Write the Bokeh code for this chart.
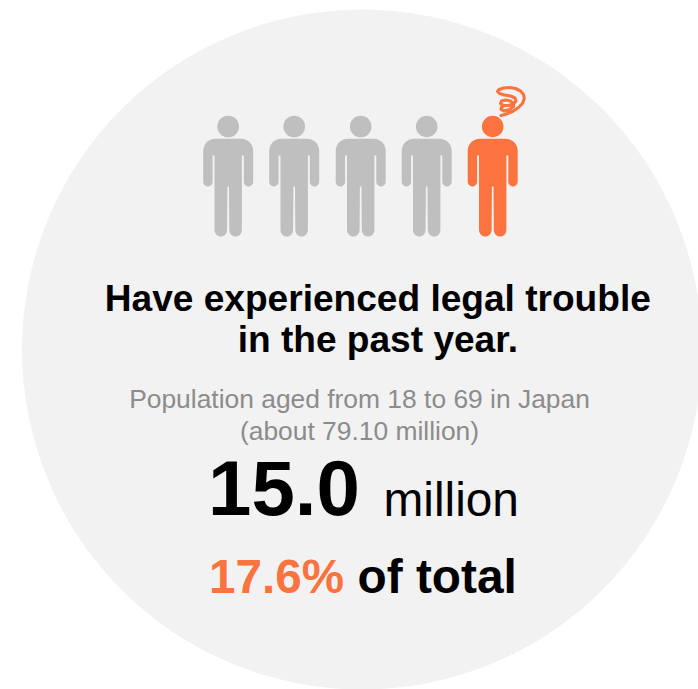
import numpy as np
from bokeh.core.properties import value
from bokeh.embed import file_html
from bokeh.models import Range1d
from bokeh.plotting import figure
from bokeh.resources import INLINE

WIDTH, HEIGHT = 698, 689

# Pictogram row: one figure in five is highlighted
person_centers = [227.7, 293.7, 360.2, 426.2, 492.2]
person_colors = ["#bfbfbf", "#bfbfbf", "#bfbfbf", "#bfbfbf", "#fb733f"]

GREY_BG = "#f2f2f2"
ORANGE = "#fb733f"

title_lines = ["Have experienced legal trouble", "in the past year."]
population_lines = ["Population aged from 18 to 69 in Japan", "(about 79.10 million)"]
headline_value = "15.0"
headline_unit = "million"
share_value = "17.6%"
share_suffix = "of total"

# Hand-drawn scribble above the highlighted head
scribble_x = [500.5, 506, 512, 518, 522, 523.8, 523, 520, 515, 509, 503, 498.5, 497, 499, 504, 510, 514.5, 515.5,
              513, 508, 503, 500, 501, 505, 510, 513, 513, 509, 504, 500.5, 501, 504]
scribble_y = [115, 113.5, 111, 107, 103, 98, 94, 90.5, 88, 87, 87.5, 89, 91, 93, 94.5, 95.5, 97.5, 100.5,
              103.5, 105, 105, 103, 100.5, 99.5, 100.5, 103, 106, 109, 110.5, 109, 106.5, 105]


def arc(cx, cy, r, start, end, n=10):
    t = np.radians(np.linspace(start, end, n))
    return cx + r * np.cos(t), cy + r * np.sin(t)


def body_outline(c):
    """Outline of a standing figure's body around its vertical axis c (y grows downward)."""
    parts = []
    # left arm, shoulder and outer edge
    parts.append(([c - 25, c - 25], [181.3, 150]))
    parts.append(arc(c - 13, 150.3, 12, 180, 270))
    parts.append(arc(c + 13, 150.3, 12, 270, 360))
    # right arm
    parts.append(([c + 25], [181.3]))
    parts.append(arc(c + 20.3, 181.3, 4.7, 0, 180))
    parts.append(([c + 15.6, c + 13.7, c + 13.7], [155, 155, 229.7]))
    # legs
    parts.append(arc(c + 7.4, 229.7, 6.3, 0, 180))
    parts.append(([c + 0.8, c - 0.8], [186, 186]))
    parts.append(arc(c - 7.4, 229.7, 6.3, 0, 180))
    parts.append(([c - 13.7, c - 13.7, c - 15.6], [229.7, 155, 155]))
    # left arm, lower end
    parts.append(arc(c - 20.3, 181.3, 4.7, 0, 180))
    xs = np.concatenate([np.asarray(a, float) for a, _ in parts])
    ys = np.concatenate([np.asarray(b, float) for _, b in parts])
    return xs, ys


p = figure(
    width=WIDTH, height=HEIGHT, output_backend="svg", toolbar_location=None,
    x_range=Range1d(0, WIDTH), y_range=Range1d(HEIGHT, 0),
    min_border=0, outline_line_color=None,
    background_fill_color="white", border_fill_color="white",
)
p.axis.visible = False
p.grid.visible = False

# Backdrop disc, cut off by the right edge of the page
p.circle(x=[361.5], y=[349], radius=340, fill_color=GREY_BG, line_color=None)

# Pictogram
for c, col in zip(person_centers, person_colors):
    xs, ys = body_outline(c)
    p.patch(xs, ys, fill_color=col, line_color=None)
    p.circle(x=[c], y=[126], radius=10.8, fill_color=col, line_color=None)

p.line(scribble_x, scribble_y, line_color=ORANGE, line_width=3.1, line_cap="round", line_join="round")


def label(x, y, text, size, color="black", style="normal", align="center"):
    p.text(x=[x], y=[y], text=[text], text_font=value("Liberation Sans"),
           text_font_size=f"{size}px", text_color=color, text_font_style=style,
           text_align=align, text_baseline="middle")


label(377.3, 297, title_lines[0], 37.1, style="bold")
label(377.3, 338, title_lines[1], 37.1, style="bold")
label(359, 398, population_lines[0], 26.4, color="#8c8c8c")
label(359, 430, population_lines[1], 26.4, color="#8c8c8c")
label(207.5, 487, headline_value, 78, style="bold", align="left")
label(383, 498.5, headline_unit, 47.8, align="left")
label(208.5, 576, share_value, 47.6, color=ORANGE, style="bold", align="left")
label(357, 576, share_suffix, 47.8, style="bold", align="left")

open("out.html", "w").write(file_html(p, INLINE))
